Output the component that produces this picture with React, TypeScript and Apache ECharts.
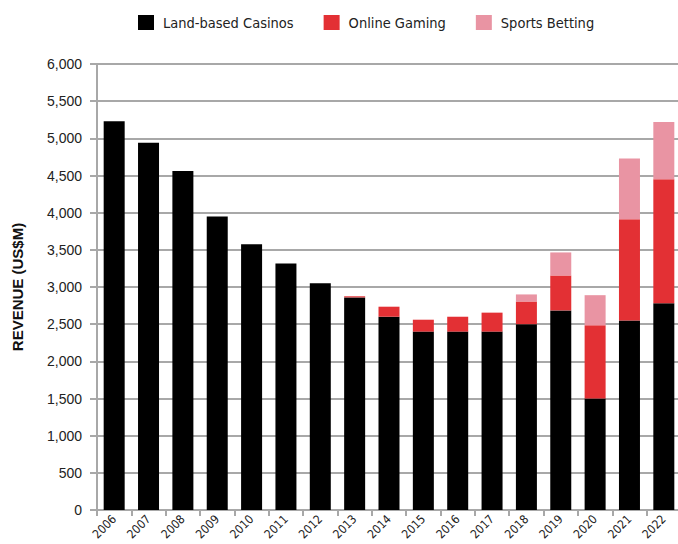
import React, { useEffect, useRef } from "react";
import * as echarts from "echarts";

const years = ["2006","2007","2008","2009","2010","2011","2012","2013","2014","2015","2016","2017","2018","2019","2020","2021","2022"];
const landBased = [5230, 4940, 4560, 3950, 3575, 3315, 3050, 2860, 2600, 2400, 2400, 2400, 2500, 2685, 1500, 2550, 2780];
const onlineGaming = [0, 0, 0, 0, 0, 0, 0, 15, 135, 160, 200, 255, 305, 470, 985, 1360, 1670];
const sportsBetting = [0, 0, 0, 0, 0, 0, 0, 0, 0, 0, 0, 0, 95, 310, 405, 820, 770];
const yTicks = { min: 0, max: 6000, interval: 500 };

const NARROW = '"DejaVu Sans Condensed", "Liberation Sans", sans-serif';
const SANS = '"Liberation Sans", Arial, sans-serif';

export default function App() {
  const ref = useRef<HTMLDivElement>(null);
  useEffect(() => {
    if (!ref.current) return;
    const chart = echarts.init(ref.current, null, { renderer: "svg" });
    const grid = "#a8a8a8";
    chart.setOption({
      animation: false,
      backgroundColor: "#ffffff",
      legend: {
        top: 15,
        left: 138,
        padding: 0,
        itemWidth: 16,
        itemHeight: 15,
        itemGap: 30,
        icon: "rect",
        textStyle: { fontFamily: NARROW, fontSize: 14.5, color: "#222", padding: [0, 0, 0, 4] },
        data: ["Land-based Casinos", "Online Gaming", "Sports Betting"],
      },
      grid: { left: 97, right: -3, top: 64, bottom: 34, containLabel: false, outerBoundsMode: "none" },
      xAxis: {
        type: "category",
        data: years,
        boundaryGap: true,
        axisLine: { show: true, lineStyle: { color: grid, width: 2 } },
        axisTick: { show: true, alignWithLabel: false, length: 6, lineStyle: { color: grid, width: 2 } },
        axisLabel: { rotate: 45, margin: 7, verticalAlign: "middle", fontFamily: NARROW, fontSize: 12, color: "#222", interval: 0 },
      },
      yAxis: {
        type: "value",
        min: yTicks.min,
        max: yTicks.max,
        interval: yTicks.interval,
        name: "REVENUE (US$M)",
        nameLocation: "middle",
        nameRotate: 90,
        nameGap: 72,
        nameTextStyle: { fontFamily: SANS, fontWeight: "bold", fontSize: 15, color: "#111" },
        axisLine: { show: true, lineStyle: { color: grid, width: 2 } },
        axisTick: { show: true, length: 7, lineStyle: { color: grid, width: 2 } },
        axisLabel: {
          margin: 15,
          fontFamily: SANS,
          fontSize: 14,
          color: "#222",
          formatter: (v: number) => v.toLocaleString("en-US"),
        },
        splitLine: { show: true, lineStyle: { color: grid, width: 2 } },
      },
      series: [
        { name: "Land-based Casinos", type: "bar", stack: "total", data: landBased, barWidth: 21, itemStyle: { color: "#000000" } },
        { name: "Online Gaming", type: "bar", stack: "total", data: onlineGaming, barWidth: 21, itemStyle: { color: "#e33034" } },
        { name: "Sports Betting", type: "bar", stack: "total", data: sportsBetting, barWidth: 21, itemStyle: { color: "#e994a3" } },
      ],
    });
    return () => chart.dispose();
  }, []);
  return <div ref={ref} style={{ width: 678, height: 544, position: "absolute", left: 0, top: 0 }} />;
}
